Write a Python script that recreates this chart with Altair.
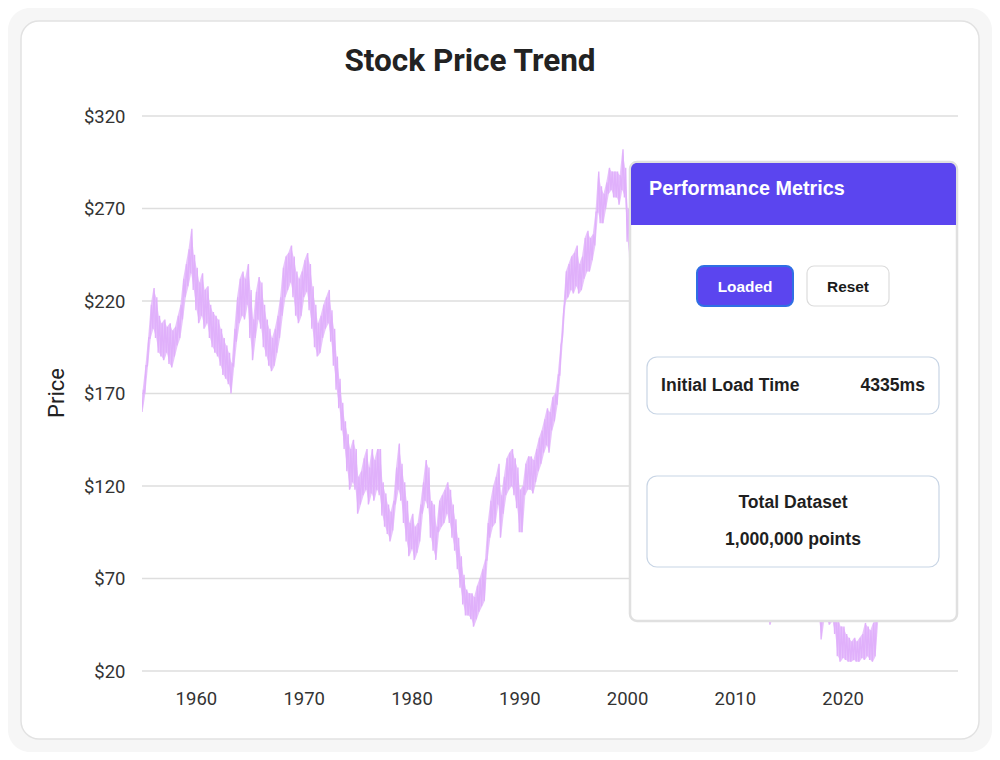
import altair as alt
import pandas as pd

# ---------------- data ----------------
START_YEAR = 1955.0
STEP = 0.25
# local low / high of the dense price band, every quarter year from 1955.0
price_lo = [
    160, 170, 185, 200, 205, 200, 192, 190, 188, 192, 186, 184, 190, 196, 200, 210,
    222, 228, 235, 226, 215, 208, 212, 205, 208, 200, 195, 192, 190, 185, 180, 178,
    175, 170, 185, 198, 208, 212, 210, 218, 200, 188, 200, 210, 205, 195, 190, 185,
    182, 185, 192, 200, 212, 222, 226, 230, 222, 212, 208, 212, 222, 225, 215, 205,
    195, 190, 192, 200, 205, 208, 198, 185, 172, 162, 150, 140, 128, 118, 122, 118,
    105, 110, 115, 118, 110, 116, 112, 118, 115, 104, 98, 94, 90, 96, 110, 118,
    112, 100, 90, 82, 86, 80, 84, 90, 105, 112, 108, 92, 85, 80, 95, 98,
    100, 105, 100, 92, 85, 75, 65, 56, 50, 50, 48, 44, 48, 52, 55, 58,
    80, 92, 98, 100, 110, 92, 105, 115, 118, 120, 115, 108, 95, 95, 115, 118,
    118, 116, 122, 128, 132, 138, 142, 138, 150, 155, 164, 180, 200, 220, 222, 226,
    224, 228, 224, 226, 232, 236, 236, 242, 250, 268, 262, 262, 270, 278, 280, 276,
    276, 272, 280, 276, 252,
    # 2000.25 onwards
    240, 232, 225, 215, 205, 198, 190, 185, 178, 172, 176, 182, 178, 170, 165, 168,
    172, 165, 158, 150, 145, 148, 140, 132, 128, 132, 125, 118, 112, 105, 100, 95,
    90, 92, 86, 80, 76, 78, 72, 68, 64, 66, 62, 60, 58, 62, 58, 55,
    54, 52, 50, 48, 45, 50, 54, 56, 58, 62, 60, 64, 62, 60, 58, 56,
    58, 55, 52, 50, 52, 50, 48, 37, 48, 47, 45, 47, 40, 28, 25, 27,
    26, 25, 25, 26, 25, 25, 27, 26, 28, 26, 25, 28, 48, 55, 58, 62,
    66, 64, 70, 74, 72, 78, 82, 80, 86, 90, 88, 94, 98, 96, 102, 106,
    104, 110, 114, 112, 118, 122, 120, 126, 130, 128,
]
price_hi = [
    172, 185, 200, 218, 227, 222, 212, 208, 210, 206, 208, 204, 206, 212, 218, 232,
    240, 248, 259, 245, 238, 230, 235, 226, 228, 218, 214, 212, 210, 205, 200, 196,
    192, 186, 205, 222, 232, 236, 232, 240, 226, 210, 225, 233, 230, 218, 210, 205,
    200, 205, 212, 222, 238, 244, 246, 250, 244, 236, 232, 236, 242, 246, 240, 228,
    218, 208, 212, 218, 222, 226, 215, 205, 190, 178, 165, 155, 148, 140, 145, 140,
    125, 128, 135, 140, 130, 140, 134, 140, 140, 122, 116, 110, 106, 112, 130, 143,
    132, 122, 112, 100, 105, 98, 100, 110, 122, 134, 130, 112, 110, 98, 112, 115,
    118, 122, 118, 110, 102, 92, 82, 72, 64, 62, 62, 60, 66, 70, 75, 80,
    100, 112, 120, 125, 132, 115, 125, 135, 138, 140, 135, 130, 118, 120, 132, 136,
    136, 134, 140, 146, 150, 156, 162, 160, 168, 170, 180, 196, 215, 236, 240, 244,
    246, 250, 240, 244, 254, 258, 254, 256, 268, 290, 282, 278, 284, 292, 290, 290,
    290, 288, 302, 292, 270,
    # 2000.25 onwards
    258, 250, 244, 235, 226, 218, 210, 204, 198, 192, 196, 200, 198, 190, 184, 186,
    190, 184, 176, 170, 165, 168, 160, 152, 148, 150, 144, 138, 130, 124, 118, 114,
    108, 110, 104, 98, 94, 96, 90, 86, 82, 84, 80, 78, 76, 80, 76, 72,
    70, 68, 66, 62, 60, 66, 70, 72, 76, 80, 78, 82, 80, 78, 76, 74,
    76, 72, 68, 66, 68, 64, 62, 54, 62, 62, 60, 62, 58, 48, 44, 44,
    40, 38, 36, 38, 36, 38, 40, 46, 44, 42, 46, 48, 66, 72, 76, 80,
    84, 82, 88, 92, 90, 96, 100, 98, 104, 108, 106, 112, 116, 114, 120, 124,
    122, 128, 132, 130, 136, 140, 138, 144, 148, 146,
]
x_ticks = [1960, 1970, 1980, 1990, 2000, 2010, 2020]
y_ticks = [20, 70, 120, 170, 220, 270, 320]

TITLE = "Stock Price Trend"
Y_TITLE = "Price"
PANEL_TITLE = "Performance Metrics"
BTN_LOADED = "Loaded"
BTN_RESET = "Reset"
LOAD_LABEL = "Initial Load Time"
LOAD_VALUE = "4335ms"
DATASET_LABEL = "Total Dataset"
DATASET_VALUE = "1,000,000 points"

# zig-zag between the low and high of each quarter -> dense band like the source
rows = []
band = []
for i, (lo, hi) in enumerate(zip(price_lo, price_hi)):
    t = START_YEAR + i * STEP
    rows.append({"year": t, "price": lo})
    rows.append({"year": t + STEP / 2, "price": hi})
    band.append({"year": t + STEP / 4, "lo": lo, "hi": hi})
line_df = pd.DataFrame(rows)
band_df = pd.DataFrame(band)
grid_df = pd.DataFrame({"v": y_ticks})

W, H = 816, 555
LINE_COLOR = "#e0b0fb"
xscale = alt.Scale(domain=[1955.0, 2030.7], nice=False, zero=False)
yscale = alt.Scale(domain=[20, 320], nice=False, zero=False)
yaxis = alt.Axis(values=y_ticks, labelExpr="'$' + datum.value", ticks=False, domain=False,
                 grid=False, labelPadding=17, labelFontSize=18.5, labelColor="#333333",
                 labelFont="Roboto", title=None, zindex=1)
xaxis = alt.Axis(values=x_ticks, format="d", ticks=False, domain=False, grid=False,
                 labelPadding=18, labelFontSize=18.5, labelColor="#333333",
                 labelFont="Roboto", title=None, zindex=1)

one = alt.Data(values=[{"k": 1}])


def box(x1, x2, y1, y2, **kw):
    return alt.Chart(one).mark_rect(**kw).encode(
        x=alt.value(x1), x2=alt.value(x2), y=alt.value(y1), y2=alt.value(y2))


def label(txt, x, y, **kw):
    return alt.Chart(one).mark_text(**kw).encode(
        x=alt.value(x), y=alt.value(y), text=alt.value(txt))


page_bg = box(-134, 850, -108, 636, fill="#f6f6f6", cornerRadius=22)
card = box(-121, 837, -95, 623, fill="#ffffff", stroke="#e2e2e2", strokeWidth=1.5,
           cornerRadius=18)

grid = alt.Chart(grid_df).mark_rule(color="#dedede", strokeWidth=1.3).encode(
    y=alt.Y("v:Q", scale=yscale, axis=yaxis),
    x=alt.value(0), x2=alt.value(W))

band_area = alt.Chart(band_df).mark_area(color=LINE_COLOR, opacity=0.75, clip=True).encode(
    x=alt.X("year:Q", scale=xscale, axis=xaxis),
    y=alt.Y("lo:Q", scale=yscale, axis=yaxis),
    y2="hi:Q")

line = alt.Chart(line_df).mark_line(color=LINE_COLOR, strokeWidth=1.3, clip=True).encode(
    x=alt.X("year:Q", scale=xscale, axis=xaxis),
    y=alt.Y("price:Q", scale=yscale, axis=yaxis))

panel = box(488, 815, 46, 505, fill="#ffffff", stroke="#e0e0e0", strokeWidth=2.5,
            cornerRadius=7)
header = box(489, 814, 47, 109, fill="#5b45ef", cornerRadiusTopLeft=6,
             cornerRadiusTopRight=6)
btn_loaded = box(555, 651, 150, 190, fill="#5b45ef", stroke="#2f6fe4", strokeWidth=2,
                 cornerRadius=7)
btn_reset = box(665, 747, 150, 190, fill="#ffffff", stroke="#dcdcdc", strokeWidth=1.2,
                cornerRadius=7)
box1 = box(505, 797, 241, 298, fill="#ffffff", stroke="#c8d5e5", strokeWidth=1.2,
           cornerRadius=10)
box2 = box(505, 797, 360, 451, fill="#ffffff", stroke="#c8d5e5", strokeWidth=1.2,
           cornerRadius=10)

pf = "Liberation Sans"
texts = [
    label(PANEL_TITLE, 507, 73, font=pf, fontSize=19.8, fontWeight="bold", color="#ffffff",
          align="left", baseline="middle"),
    label(BTN_LOADED, 603, 171, font=pf, fontSize=15.4, fontWeight="bold", color="#ffffff",
          align="center", baseline="middle"),
    label(BTN_RESET, 706, 171, font=pf, fontSize=15.4, fontWeight="bold", color="#1a1a1a",
          align="center", baseline="middle"),
    label(LOAD_LABEL, 519, 270, font=pf, fontSize=17.6, fontWeight="bold", color="#1f1f1f",
          align="left", baseline="middle"),
    label(LOAD_VALUE, 783, 270, font=pf, fontSize=17.6, fontWeight="bold", color="#1f1f1f",
          align="right", baseline="middle"),
    label(DATASET_LABEL, 651, 387, font=pf, fontSize=17.6, fontWeight="bold", color="#1f1f1f",
          align="center", baseline="middle"),
    label(DATASET_VALUE, 651, 424, font=pf, fontSize=17.6, fontWeight="bold", color="#1f1f1f",
          align="center", baseline="middle"),
    label(TITLE, 328, -54, font="Roboto", fontSize=31.5, fontWeight="bold", color="#222222",
          align="center", baseline="middle"),
    label(Y_TITLE, -85, 277, font="Roboto", fontSize=22, color="#222222", angle=270,
          align="center", baseline="middle"),
]

chart = alt.layer(
    page_bg, card, grid, band_area, line, panel, header, btn_loaded, btn_reset, box1, box2,
    *texts
).properties(
    width=W, height=H,
    padding={"left": 134, "top": 108, "right": 34, "bottom": 81},
    autosize=alt.AutoSizeParams(type="none"),
).configure(background="#ffffff").configure_view(stroke=None)

chart.save("out.html", embed_options={"renderer": "svg", "actions": False})
